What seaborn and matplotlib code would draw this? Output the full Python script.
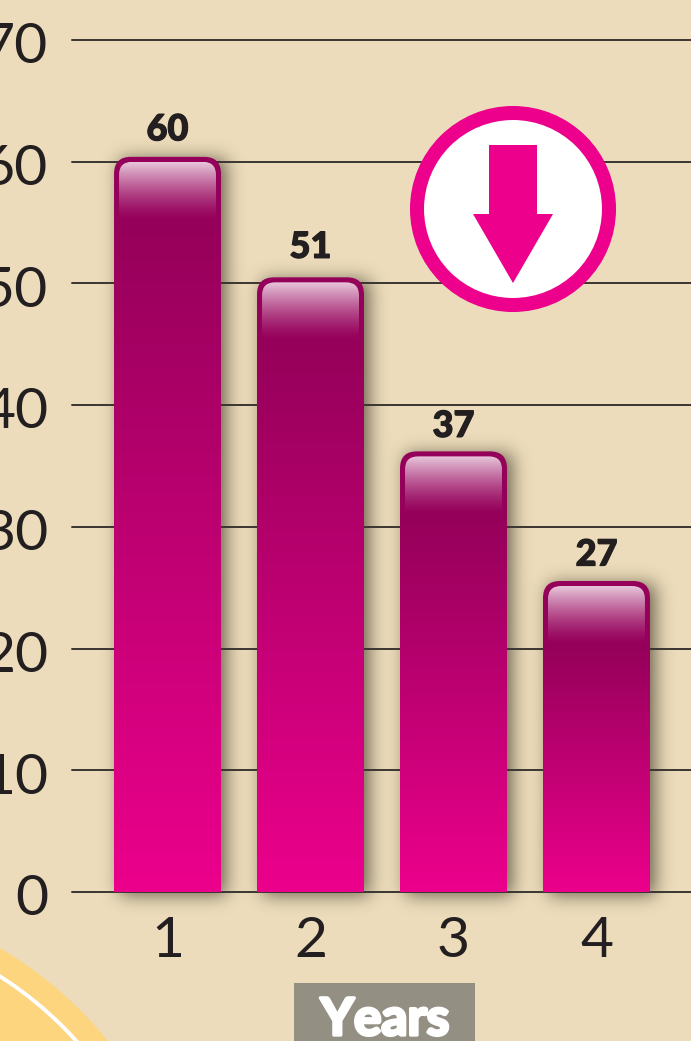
import numpy as np
import seaborn as sns
import matplotlib.pyplot as plt
from matplotlib.patches import Circle, PathPatch, Polygon, Rectangle
from matplotlib.path import Path
from matplotlib.colors import LinearSegmentedColormap
from matplotlib.transforms import Affine2D, ScaledTranslation
import matplotlib.patheffects as pe

# data
years = ['1', '2', '3', '4']
bar_heights = [60.4, 50.5, 36.2, 25.55]
value_labels = ['60', '51', '37', '27']
label_gaps = [27, 30, 25, 26]
y_ticks = [0, 10, 20, 30, 40, 50, 60, 70]

W, H = 691, 1041
BG = '#ecdcbb'
PINK = '#ec008c'
DARK = '#231f20'

sns.set_theme(style='white')
plt.rcParams['font.family'] = ['Lato', 'DejaVu Sans']

fig = plt.figure(figsize=(W / 100, H / 100), dpi=100, facecolor=BG)
ax = fig.add_axes([72 / W, (H - 892) / H, (W - 72) / W, 852 / H])
ax.patch.set_alpha(0)

sns.barplot(x=years, y=bar_heights, color=PINK, width=0.748, ax=ax)
ax.set_xlim(-0.668, 3.661)
ax.set_ylim(0, 70)
sns.despine(ax=ax, left=True, bottom=True)

# pixel coordinates, y pointing down
px = Affine2D().scale(1, -1).translate(0, H)


def top_round(l, r, t, b, rad):
    verts = [(l, b), (l, t + rad), (l, t), (l + rad, t), (r - rad, t), (r, t), (r, t + rad), (r, b), (l, b)]
    codes = [Path.MOVETO, Path.LINETO, Path.CURVE3, Path.CURVE3, Path.LINETO,
             Path.CURVE3, Path.CURVE3, Path.LINETO, Path.CLOSEPOLY]
    return Path(verts, codes)


# grid
ax.set_yticks(y_ticks)
ax.set_xticks(range(4))
ax.set_xticklabels(years)
ax.yaxis.grid(True, color='#3a3532', lw=1.4)
ax.xaxis.grid(False)
for gl in ax.get_ygridlines():
    gl.set_clip_on(False)
    gl.set_zorder(1)
ax.tick_params(axis='y', length=0, pad=17, labelsize=41, labelcolor=DARK)
ax.tick_params(axis='x', length=0, pad=17, labelsize=41, labelcolor=DARK)
shift = ScaledTranslation(0, -2 / 72, fig.dpi_scale_trans)
for lab in ax.get_yticklabels():
    lab.set_transform(lab.get_transform() + shift)

# bar boxes in pixels, taken from what seaborn drew
fig.canvas.draw()
boxes = []
for bar in ax.containers[0]:
    bb = bar.get_window_extent()
    boxes.append((bb.x0, bb.x1, H - bb.y1, H - bb.y0))
    bar.set_alpha(0)

# corner decoration
ax.add_patch(Circle((-200, 1290), 396, transform=px, fc='#fdd57e', ec='none', clip_on=False, zorder=0))
ax.add_patch(Circle((-200, 1290), 372, transform=px, fc='none', ec='white', lw=2.8, clip_on=False, zorder=0.1))

# soft shadow
mask = np.zeros((H + 80, W + 80))
for l, r, t, b in boxes:
    mask[int(t) + 3 + 40:int(b) + 3 + 40, int(l) + 6 + 40:int(r) + 6 + 40] = 1
kern = np.exp(-0.5 * (np.arange(-30, 31) / 9.0) ** 2)
kern /= kern.sum()
mask = np.apply_along_axis(lambda v: np.convolve(v, kern, mode='same'), 0, mask)
mask = np.apply_along_axis(lambda v: np.convolve(v, kern, mode='same'), 1, mask)
rgba = np.zeros(mask.shape + (4,))
rgba[..., :3] = (0.10, 0.08, 0.03)
rgba[..., 3] = mask * 0.62
sh = ax.imshow(rgba, extent=(-40, W + 40, H + 40, -40), transform=px, aspect='auto', zorder=0.5)
sh.set_clip_on(False)

# bars
cmap = LinearSegmentedColormap.from_list('bar', ['#95005a', '#ec008c'])
grad = np.linspace(0, 1, 256).reshape(-1, 1)
tt = np.linspace(0, 1, 128)
for i, (l, r, t, b) in enumerate(boxes):
    outline = PathPatch(top_round(l, r, t, b, 17), transform=px, fc='#95005a', ec='none', zorder=2, clip_on=False)
    ax.add_patch(outline)

    # gradient starts under the gloss, above it the bar stays dark
    gt, gb = t + 5, t + 64
    im = ax.imshow(grad, extent=(l, r, b, gb), transform=px, cmap=cmap, aspect='auto', zorder=2.1)
    im.set_clip_path(outline)

    inner = PathPatch(top_round(l + 5, r - 5, gt, gb, 13), transform=px, fc='none', ec='none', zorder=2.2, clip_on=False)
    ax.add_patch(inner)
    gloss = np.ones((128, 1, 4))
    gloss[:, 0, 3] = 0.78 * (1 - tt) ** 1.4
    glim = ax.imshow(gloss, extent=(l + 5, r - 5, gb, gt), transform=px, aspect='auto', zorder=2.3)
    glim.set_clip_path(inner)

    ax.text((l + r) / 2, t - label_gaps[i], value_labels[i], transform=px, ha='center', va='center', fontsize=26,
            fontweight='black', color=DARK, zorder=4, clip_on=False,
            path_effects=[pe.withStroke(linewidth=0.9, foreground=DARK)])

# arrow badge
ax.add_patch(Circle((513, 209), 96, transform=px, fc='white', ec=PINK, lw=10.1, zorder=3, clip_on=False))
arrow = [(489, 145), (537, 145), (537, 214), (553, 214), (513, 283), (473, 214), (489, 214)]
ax.add_patch(Polygon(arrow, closed=True, transform=px, fc=PINK, ec='none', zorder=3.1, clip_on=False))

# axis title box
ax.add_patch(Rectangle((294, 983), 181, 60, transform=px, fc='#948f83', ec='none', zorder=3, clip_on=False))
ax.text(385, 1035, 'Years', transform=px, ha='center', va='baseline', fontsize=37, fontweight='bold', color='white',
        zorder=4, clip_on=False, path_effects=[pe.withStroke(linewidth=2.4, foreground='white')])

ax.set_xlim(-0.668, 3.661)
ax.set_ylim(0, 70)
ax.set_xlabel('')
ax.set_ylabel('')

plt.savefig('out.png', dpi=100, facecolor=BG)
